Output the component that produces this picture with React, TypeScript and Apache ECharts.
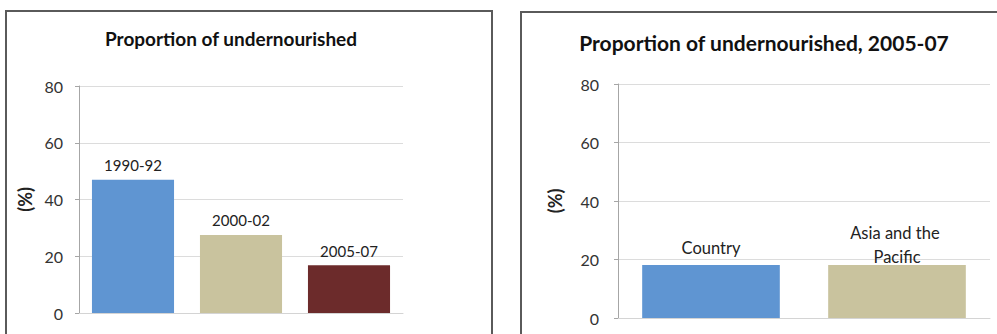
import React, { useEffect, useRef } from "react";
import * as echarts from "echarts";

// Proportion of undernourished over time
const periodCategories = ["1990-92", "2000-02", "2005-07"];
const periodValues = [47, 27.5, 16.8];
const periodColors = ["#5f95d2", "#c9c39e", "#6c2b2b"];

// Proportion of undernourished, 2005-07: country vs region
const regionCategories = ["Country", "Asia and the Pacific"];
const regionValues = [18.1, 18.1];
const regionColors = ["#5f95d2", "#c9c39e"];

// Shared y-axis scale (%)
const yMin = 0;
const yMax = 80;
const yStep = 20;

const FONT = "Lato, 'Open Sans', sans-serif";

export default function App() {
  const ref = useRef<HTMLDivElement>(null);

  useEffect(() => {
    if (!ref.current) return;
    const chart = echarts.init(ref.current, undefined, { renderer: "svg" });

    const yAxisBase = (gridIndex: number, nameGap: number, margin: number, fontSize: number) => ({
      type: "value" as const,
      gridIndex,
      min: yMin,
      max: yMax,
      interval: yStep,
      name: "(%)",
      nameLocation: "middle" as const,
      nameRotate: 90,
      nameGap,
      nameTextStyle: { fontFamily: FONT, fontWeight: "bold" as const, fontSize: 18, color: "#222" },
      axisLine: { show: true, lineStyle: { color: "#a6a6a6", width: 1 } },
      axisTick: { show: true, length: 4, lineStyle: { color: "#a6a6a6" } },
      axisLabel: { margin, fontFamily: FONT, fontSize, color: "#333" },
      splitLine: { show: true, lineStyle: { color: "#dcdcdc", width: 1 } },
    });

    const xAxisBase = (gridIndex: number, data: string[]) => ({
      type: "category" as const,
      gridIndex,
      data,
      axisLine: { show: true, lineStyle: { color: "#d4d4d4" } },
      axisTick: { show: false },
      axisLabel: { show: false },
    });

    chart.setOption({
      animation: false,
      backgroundColor: "#ffffff",
      title: [
        {
          text: "Proportion of undernourished",
          left: 231,
          top: 29,
          padding: 0,
          textAlign: "center",
          textStyle: { fontFamily: FONT, fontWeight: "bold", fontSize: 19, color: "#111" },
        },
        {
          text: "Proportion of undernourished, 2005-07",
          left: 764,
          top: 32,
          padding: 0,
          textAlign: "center",
          textStyle: { fontFamily: FONT, fontWeight: "bold", fontSize: 21, color: "#111" },
        },
      ],
      graphic: [
        {
          type: "rect",
          shape: { x: 6, y: 11, width: 486, height: 340 },
          style: { fill: "none", stroke: "#5a5a5a", lineWidth: 2 },
          silent: true,
        },
        {
          type: "rect",
          shape: { x: 521, y: 12, width: 500, height: 340 },
          style: { fill: "none", stroke: "#5a5a5a", lineWidth: 2 },
          silent: true,
        },
      ],
      grid: [
        { left: 79, right: 594, top: 86, bottom: 21 },
        { left: 618, right: 7, top: 84, bottom: 16 },
      ],
      xAxis: [xAxisBase(0, periodCategories), xAxisBase(1, regionCategories)],
      yAxis: [yAxisBase(0, 45, 16, 16), yAxisBase(1, 54, 19, 16)],
      series: [
        {
          type: "bar",
          xAxisIndex: 0,
          yAxisIndex: 0,
          barWidth: "76%",
          data: periodValues.map((v, i) => ({
            value: v,
            itemStyle: { color: periodColors[i] },
          })),
          label: {
            show: true,
            position: "top",
            distance: 7,
            formatter: "{b}",
            fontFamily: FONT,
            fontSize: 15,
            color: "#222",
          },
        },
        {
          type: "bar",
          xAxisIndex: 1,
          yAxisIndex: 1,
          barWidth: "74%",
          data: regionValues.map((v, i) => ({
            value: v,
            itemStyle: { color: regionColors[i] },
            label: i === 1 ? { distance: -4 } : {},
          })),
          label: {
            show: true,
            position: "top",
            distance: 5,
            formatter: "{b}",
            width: 110,
            overflow: "break",
            lineHeight: 24,
            fontFamily: FONT,
            fontSize: 16.5,
            color: "#222",
          },
        },
      ],
    });

    return () => chart.dispose();
  }, []);

  return (
    <div
      ref={ref}
      style={{ position: "fixed", left: 0, top: 0, width: 997, height: 334, background: "#fff" }}
    />
  );
}
